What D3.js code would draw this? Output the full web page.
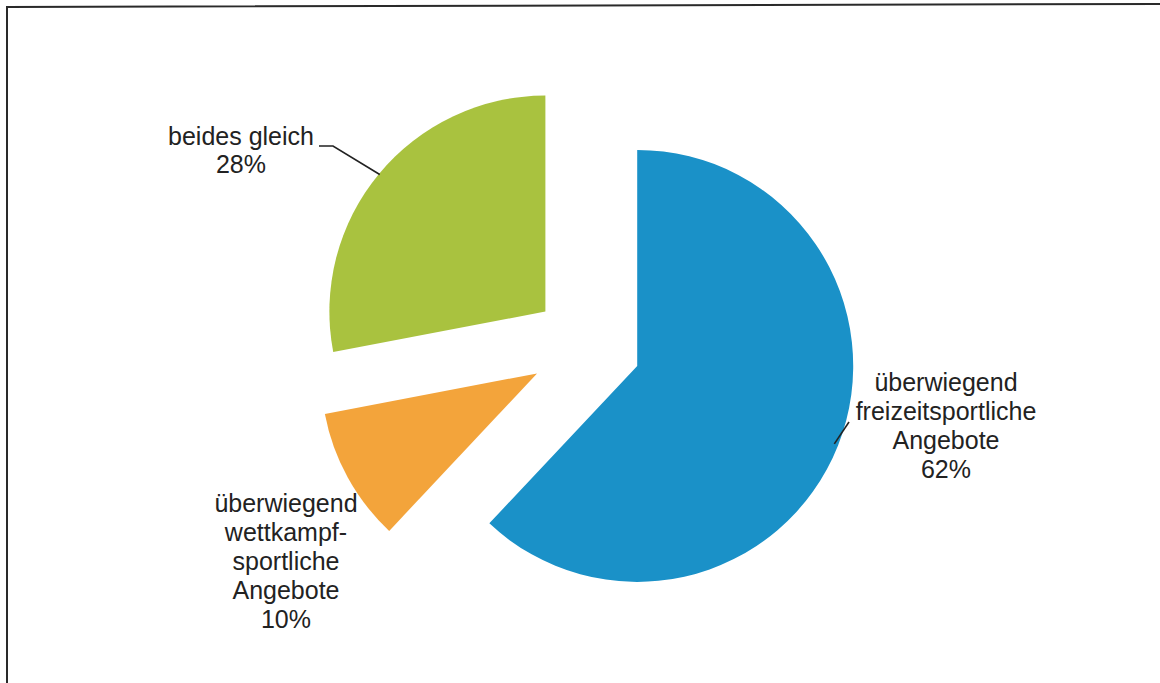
<!DOCTYPE html>
<html>
<head>
<meta charset="utf-8">
<script src="https://cdn.jsdelivr.net/npm/d3@7/dist/d3.min.js"></script>
<style>
  html, body { margin: 0; padding: 0; background: #fff; }
  svg { display: block; }
  text { font-family: "Liberation Sans", Arial, Helvetica, sans-serif; fill: #222; }
</style>
</head>
<body>
<svg id="chart" width="1160" height="683"></svg>
<script>
// Angebotsschwerpunkt der Vereine (Anteile in Prozent)
const categories = ["überwiegend freizeitsportliche Angebote", "überwiegend wettkampfsportliche Angebote", "beides gleich"];
const values = [62, 10, 28];
const colors = ["#1a91c8", "#f3a43b", "#a9c23f"];
const labelLines = [
  ["überwiegend", "freizeitsportliche", "Angebote", "62%"],
  ["überwiegend", "wettkampf-", "sportliche", "Angebote", "10%"],
  ["beides gleich", "28%"]
];

const cx = 587, cy = 346;       // pie centre before exploding
const R = 216;                  // outer radius
const explode = [54, 57, 54];   // slice offsets along their mid angles

const svg = d3.select("#chart");

// frame (top and left rule)
svg.append("path")
  .attr("d", "M7,683 L7,7 L1160,4")
  .attr("fill", "none")
  .attr("stroke", "#2a2a2a")
  .attr("stroke-width", 2);

const pie = d3.pie().sort(null).value(d => d)(values);
const arc = d3.arc().innerRadius(0).outerRadius(R);

const mid = d => (d.startAngle + d.endAngle) / 2;
const dir = a => [Math.sin(a), -Math.cos(a)];

const g = svg.append("g").attr("transform", `translate(${cx},${cy})`);

g.selectAll("path.slice")
  .data(pie)
  .join("path")
  .attr("class", "slice")
  .attr("d", arc)
  .attr("fill", (d, i) => colors[i])
  .attr("transform", d => {
    const [dx, dy] = dir(mid(d));
    const e = explode[d.index];
    return `translate(${dx * e},${dy * e})`;
  });

// point on a slice's outer arc at its mid angle
function rimPoint(d, r) {
  const [dx, dy] = dir(mid(d));
  const e = explode[d.index];
  return [cx + dx * (e + r), cy + dy * (e + r)];
}

// leader lines
const pGreen = rimPoint(pie[2], R - 1);
svg.append("path")
  .attr("d", `M319,146 L333,146 L${pGreen[0]},${pGreen[1]}`)
  .attr("fill", "none")
  .attr("stroke", "#222")
  .attr("stroke-width", 1.6);

const pBlue = rimPoint(pie[0], R - 4);
svg.append("path")
  .attr("d", `M${pBlue[0]},${pBlue[1]} L849,422`)
  .attr("fill", "none")
  .attr("stroke", "#222")
  .attr("stroke-width", 1.6);

// labels
const labelPos = [
  { x: 946, y: 391 },
  { x: 286, y: 512 },
  { x: 241, y: 145 }
];
const lineH = 29;

labelLines.forEach((lines, i) => {
  const t = svg.append("text")
    .attr("text-anchor", "middle")
    .attr("font-size", 25);
  lines.forEach((s, k) => {
    t.append("tspan")
      .attr("x", labelPos[i].x)
      .attr("y", labelPos[i].y + k * (i === 2 ? 28 : lineH))
      .text(s);
  });
});
</script>
</body>
</html>
